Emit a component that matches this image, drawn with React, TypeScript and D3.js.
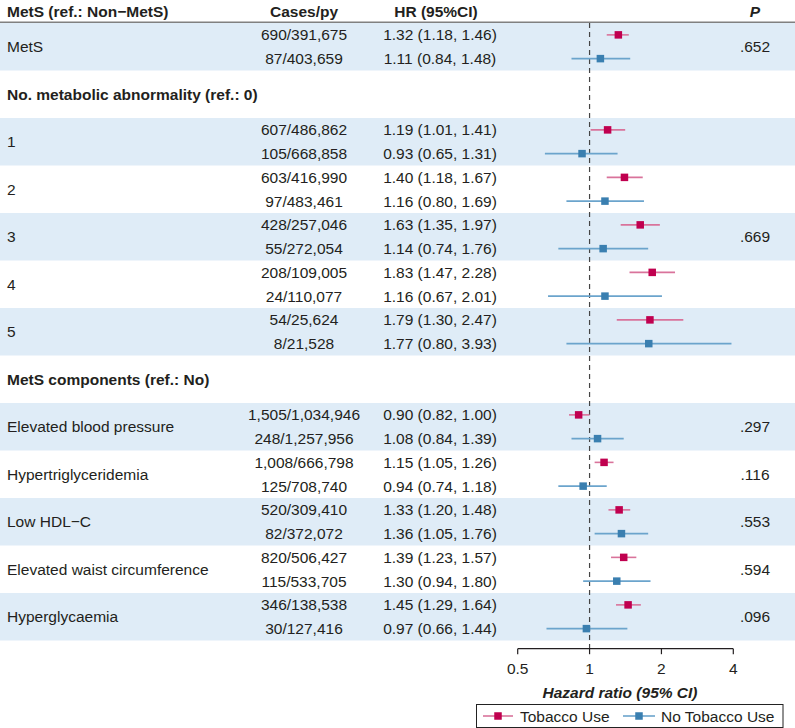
import React from "react";
import * as d3 from "d3";

const labels = ["MetS", "1", "2", "3", "4", "5", "Elevated blood pressure", "Hypertriglyceridemia", "Low HDL\u2212C", "Elevated waist circumference", "Hyperglycaemia"];
const sections = ["MetS (ref.: Non\u2212MetS)", "No. metabolic abnormality (ref.: 0)", "MetS components (ref.: No)"];
const sectionOf = [0, 1, 1, 1, 1, 1, 2, 2, 2, 2, 2];
const shaded = [true, true, false, true, false, true, true, false, true, false, true];
const tobCases = ["690/391,675", "607/486,862", "603/416,990", "428/257,046", "208/109,005", "54/25,624", "1,505/1,034,946", "1,008/666,798", "520/309,410", "820/506,427", "346/138,538"];
const noCases = ["87/403,659", "105/668,858", "97/483,461", "55/272,054", "24/110,077", "8/21,528", "248/1,257,956", "125/708,740", "82/372,072", "115/533,705", "30/127,416"];
const tobHR = [1.32, 1.19, 1.40, 1.63, 1.83, 1.79, 0.90, 1.15, 1.33, 1.39, 1.45];
const tobLo = [1.18, 1.01, 1.18, 1.35, 1.47, 1.30, 0.82, 1.05, 1.20, 1.23, 1.29];
const tobHi = [1.46, 1.41, 1.67, 1.97, 2.28, 2.47, 1.00, 1.26, 1.48, 1.57, 1.64];
const noHR = [1.11, 0.93, 1.16, 1.14, 1.16, 1.77, 1.08, 0.94, 1.36, 1.30, 0.97];
const noLo = [0.84, 0.65, 0.80, 0.74, 0.67, 0.80, 0.84, 0.74, 1.05, 0.94, 0.66];
const noHi = [1.48, 1.31, 1.69, 1.76, 2.01, 3.93, 1.39, 1.18, 1.76, 1.80, 1.44];
const pLabels = [".652", "", "", ".669", "", "", ".297", ".116", ".553", ".594", ".096"];
const ticks = [0.5, 1, 2, 4];
const legendLabels = ["Tobacco Use", "No Tobacco Use"];

const W = 795, H = 728;
const FONT = "'Liberation Sans', Arial, Helvetica, sans-serif";
const TXT = "#231f20";
const PINK = "#c0004f", PINK_L = "#d9739b";
const BLUE = "#3a7fb0", BLUE_L = "#6ba4cc";
const BAND = "#dfecf7";
const FS = 15.5;

export default function App() {
  const slot = 23.75;
  const top0 = 23;
  const x = d3.scaleLog().base(2).domain([0.5, 4]).range([517.7, 733.3]);
  const casesX = 304, hrX = 440, pX = 755;

  // compute layout
  const items: { type: string; idx: number; top: number }[] = [];
  let cur = top0;
  let lastSec = 0;
  labels.forEach((_, i) => {
    if (sectionOf[i] !== lastSec) {
      items.push({ type: "section", idx: sectionOf[i], top: cur });
      cur += slot * 2;
      lastSec = sectionOf[i];
    }
    items.push({ type: "group", idx: i, top: cur });
    cur += slot * 2;
  });
  const bottom = cur;
  const axisY = 648.7;
  const fmt = (v: number) => v.toFixed(2);
  const ms = 7.5;

  return (
    <svg width={W} height={H} style={{ position: "absolute", left: 0, top: 0, display: "block" }} fontFamily={FONT}>
      <rect x={0} y={0} width={W} height={H} fill="#fff" />
      {items.filter(d => d.type === "group" && shaded[d.idx]).map(d => (
        <rect key={"b" + d.idx} x={0} y={d.top} width={W} height={slot * 2} fill={BAND} />
      ))}
      {/* header */}
      <g fontWeight="bold" fontSize={FS} fill={TXT}>
        <text x={7} y={11.5} dominantBaseline="central">{sections[0]}</text>
        <text x={casesX} y={11.5} textAnchor="middle" dominantBaseline="central">Cases/py</text>
        <text x={hrX - 4} y={11.5} textAnchor="middle" dominantBaseline="central">HR (95%CI)</text>
        <text x={pX} y={11.5} textAnchor="middle" dominantBaseline="central" fontStyle="italic">P</text>
      </g>
      <line x1={0} x2={W} y1={22.3} y2={22.3} stroke="#808080" strokeWidth={1.5} />
      {items.map(d => {
        if (d.type === "section") {
          return (
            <text key={"s" + d.idx} x={7} y={d.top + slot} dominantBaseline="central" fontWeight="bold" fontSize={FS} fill={TXT}>
              {sections[d.idx]}
            </text>
          );
        }
        const i = d.idx;
        const y1 = d.top + slot * 0.5, y2 = d.top + slot * 1.5, yc = d.top + slot;
        return (
          <g key={"g" + i} fontSize={FS} fill={TXT}>
            <text x={7} y={yc} dominantBaseline="central">{labels[i]}</text>
            <text x={casesX} y={y1} textAnchor="middle" dominantBaseline="central">{tobCases[i]}</text>
            <text x={casesX} y={y2} textAnchor="middle" dominantBaseline="central">{noCases[i]}</text>
            <text x={hrX} y={y1} textAnchor="middle" dominantBaseline="central">{`${fmt(tobHR[i])} (${fmt(tobLo[i])}, ${fmt(tobHi[i])})`}</text>
            <text x={hrX} y={y2} textAnchor="middle" dominantBaseline="central">{`${fmt(noHR[i])} (${fmt(noLo[i])}, ${fmt(noHi[i])})`}</text>
            {pLabels[i] && <text x={pX} y={yc} textAnchor="middle" dominantBaseline="central">{pLabels[i]}</text>}
          </g>
        );
      })}
      {/* reference line */}
      <line x1={x(1)} x2={x(1)} y1={23} y2={axisY} stroke="#444" strokeWidth={1.2} strokeDasharray="5,4" />
      {/* CIs and markers */}
      {items.filter(d => d.type === "group").map(d => {
        const i = d.idx;
        const y1 = d.top + slot * 0.5, y2 = d.top + slot * 1.5;
        return (
          <g key={"m" + i}>
            <line x1={x(tobLo[i])} x2={x(tobHi[i])} y1={y1} y2={y1} stroke={PINK_L} strokeWidth={1.6} />
            <rect x={x(tobHR[i]) - ms / 2} y={y1 - ms / 2} width={ms} height={ms} fill={PINK} />
            <line x1={x(noLo[i])} x2={x(noHi[i])} y1={y2} y2={y2} stroke={BLUE_L} strokeWidth={1.6} />
            <rect x={x(noHR[i]) - ms / 2} y={y2 - ms / 2} width={ms} height={ms} fill={BLUE} />
          </g>
        );
      })}
      {/* axis */}
      <g>
        <line x1={x(0.5)} x2={x(4)} y1={axisY} y2={axisY} stroke={TXT} strokeWidth={1.2} />
        {ticks.map(t => (
          <g key={"t" + t}>
            <line x1={x(t)} x2={x(t)} y1={axisY} y2={axisY + 5.5} stroke={TXT} strokeWidth={1.2} />
            <text x={x(t)} y={668.5} textAnchor="middle" dominantBaseline="central" fontSize={FS} fill={TXT}>{t}</text>
          </g>
        ))}
        <text x={620} y={692} textAnchor="middle" dominantBaseline="central" fontSize={FS} fontWeight="bold" fontStyle="italic" fill={TXT}>
          Hazard ratio (95% CI)
        </text>
      </g>
      {/* legend */}
      <g>
        <rect x={476.5} y={704.5} width={306.5} height={23} fill="#fff" stroke="#222" strokeWidth={1} />
        <line x1={483} x2={513} y1={716} y2={716} stroke={PINK_L} strokeWidth={1.6} />
        <rect x={498 - ms / 2} y={716 - ms / 2} width={ms} height={ms} fill={PINK} />
        <text x={520} y={716} dominantBaseline="central" fontSize={FS} fill={TXT}>{legendLabels[0]}</text>
        <line x1={623} x2={655} y1={716} y2={716} stroke={BLUE_L} strokeWidth={1.6} />
        <rect x={639 - ms / 2} y={716 - ms / 2} width={ms} height={ms} fill={BLUE} />
        <text x={661} y={716} dominantBaseline="central" fontSize={FS} fill={TXT}>{legendLabels[1]}</text>
      </g>
    </svg>
  );
}
